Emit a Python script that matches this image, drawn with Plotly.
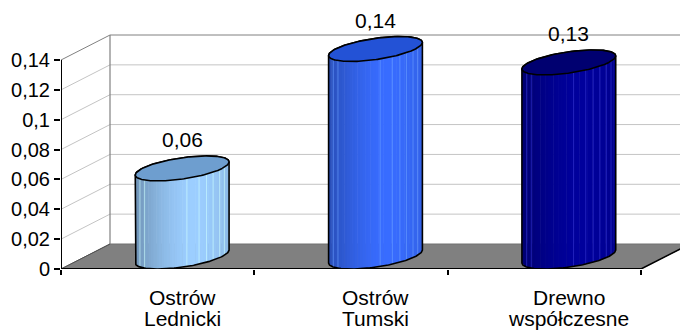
import numpy as np
import plotly.graph_objects as go

# ---- data ----
categories = ["Ostrów Lednicki", "Ostrów Tumski", "Drewno współczesne"]
values = [0.059, 0.139, 0.13]
value_labels = ["0,06", "0,14", "0,13"]
y_ticks = [0, 0.02, 0.04, 0.06, 0.08, 0.1, 0.12, 0.14]
y_tick_labels = ["0", "0,02", "0,04", "0,06", "0,08", "0,1", "0,12", "0,14"]

# ---- style ----
body_colors = [(0x9C, 0xCE, 0xFF), (0x38, 0x6C, 0xFF), (0x00, 0x00, 0x9C)]
top_colors = ["#6E9ECF", "#2352D6", "#000070"]
FONT = "Liberation Sans, Arial, sans-serif"
W, H = 680, 331
ML, MB = 61, 62
CAT_PX = 193.33
YMAX_AX = 0.14
Y_PX = 209 / YMAX_AX
X_RANGE = [-0.5, -0.5 + (W - ML) / CAT_PX]
Y_RANGE = [0, (H - MB) / Y_PX]
DX = 49 / CAT_PX          # depth offset in x units
DY = 25 / Y_PX            # depth offset in y units
RU = 40 / CAT_PX          # cylinder radius in x units

fig = go.Figure()
shapes = []

def line(x0, y0, x1, y1, color, width=1, layer="below"):
    shapes.append(dict(type="line", xref="x", yref="y", x0=x0, y0=y0, x1=x1, y1=y1,
                       line=dict(color=color, width=width), layer=layer))

n = len(categories)
xl, xr = -0.5, n - 0.5
# floor
shapes.append(dict(type="path", xref="x", yref="y", layer="below",
                   path=f"M {xl},0 L {xl+DX},{DY} L {xr+DX},{DY} L {xr},0 Z",
                   fillcolor="#808080", line=dict(color="#707070", width=1)))
# gridlines: side wall diagonals and back wall horizontals
for v in y_ticks[1:]:
    col = "#808080" if v == y_ticks[-1] else "#C4C4C4"
    line(xl, v, xl + DX, v + DY, col, 1)
    line(xl + DX, v + DY, xr + DX + 0.2, v + DY, col, 1)
# back wall left edge
line(xl + DX, DY, xl + DX, y_ticks[-1] + DY, "#808080", 1.2)
# floor left edge
line(xl, 0, xl + DX, DY, "#505050", 1)
# floor right edge
line(xr, 0, xr + DX, DY, "black", 1.5)
# front axis lines
line(xl, 0, xr, 0, "black", 2)
line(xl, 0, xl, y_ticks[-1], "black", 2)

# ---- cylinders ----
thR = np.arctan2(0.5 * DX, RU)

def ell(cx, base, th):
    X = cx + RU * np.cos(th) + 0.5 * DX * (1 + np.sin(th))
    Y = base + 0.5 * DY * (1 + np.sin(th))
    return X, Y

def shade(t):
    if t < 0.6:
        return 0.72 + 0.28 * (1 - ((0.6 - t) / 0.6) ** 1.5)
    return 1 - 0.1 * ((t - 0.6) / 0.4) ** 2

for i, (v, bc, tc) in enumerate(zip(values, body_colors, top_colors)):
    front = thR + np.pi + np.linspace(0, np.pi, 120)
    back = thR + np.linspace(0, np.pi, 120)
    fx, fy = ell(i, 0.0, front)          # bottom front arc (left -> right)
    bx, by = ell(i, v, back)             # top back arc (right -> left)
    bxs, bys = bx[::-1], by[::-1]
    x_left, x_right = fx[0], fx[-1]
    nsl = 36
    edges = np.linspace(x_left, x_right, nsl + 1)
    for k in range(nsl):
        xa, xb = edges[k], edges[k + 1] + (x_right - x_left) * 0.006
        xb = min(xb, x_right)
        ya0, yb0 = np.interp(xa, fx, fy), np.interp(xb, fx, fy)
        ya1, yb1 = np.interp(xa, bxs, bys), np.interp(xb, bxs, bys)
        m = shade((k + 0.5) / nsl)
        c = "rgb(%d,%d,%d)" % tuple(int(round(ch * m)) for ch in bc)
        fig.add_trace(go.Scatter(x=[xa, xb, xb, xa, xa], y=[ya0, yb0, yb1, ya1, ya0],
                                 mode="lines", fill="toself", fillcolor=c,
                                 line=dict(width=0), hoverinfo="skip", showlegend=False))
    # thin light stripes
    lc = "rgba(%d,%d,%d,0.8)" % tuple(min(255, int(ch * 1.0 + 50)) for ch in bc)
    for t in [0.05, 0.1, 0.55, 0.68, 0.76, 0.83, 0.9, 0.95]:
        xs = x_left + t * (x_right - x_left)
        fig.add_trace(go.Scatter(x=[xs, xs], y=[np.interp(xs, fx, fy), np.interp(xs, bxs, bys)],
                                 mode="lines", line=dict(color=lc, width=0.8),
                                 hoverinfo="skip", showlegend=False))
    # body outline
    ox = np.concatenate([bx, fx, bx[:1]])
    oy = np.concatenate([by, fy, by[:1]])
    fig.add_trace(go.Scatter(x=ox, y=oy, mode="lines", line=dict(color="black", width=1.6),
                             hoverinfo="skip", showlegend=False))
    # top ellipse
    th = np.linspace(0, 2 * np.pi, 200)
    tx, ty = ell(i, v, th)
    fig.add_trace(go.Scatter(x=tx, y=ty, mode="lines", fill="toself", fillcolor=tc,
                             line=dict(color="black", width=1.6),
                             hoverinfo="skip", showlegend=False))

annotations = []
for i, (v, lab) in enumerate(zip(values, value_labels)):
    annotations.append(dict(x=i + 0.5 * DX, y=v + DY, xref="x", yref="y", text=lab,
                            showarrow=False, yanchor="middle", yshift=16,
                            font=dict(family=FONT, size=21, color="black")))
for i, cat in enumerate(categories):
    parts = cat.split(" ", 1)
    for j, p in enumerate(parts):
        annotations.append(dict(x=i + 0.5 * DX, y=0, xref="x", yref="y", text=p,
                                showarrow=False, yanchor="middle", yshift=-28 - 21 * j,
                                borderpad=0,
                                font=dict(family=FONT, size=21, color="black")))

fig.update_layout(
    width=W, height=H,
    margin=dict(l=ML, r=0, t=0, b=MB, pad=0),
    paper_bgcolor="white", plot_bgcolor="white",
    shapes=shapes, annotations=annotations, showlegend=False,
    xaxis=dict(range=X_RANGE, showgrid=False, zeroline=False, showline=False,
               tickmode="array", tickvals=[-0.5, 0.5, 1.5, 2.5], ticks="outside",
               ticklen=5, tickwidth=1.5, tickcolor="black", showticklabels=False,
               fixedrange=True),
    yaxis=dict(range=Y_RANGE, showgrid=False, zeroline=False, showline=False,
               tickmode="array", tickvals=y_ticks, ticktext=y_tick_labels,
               ticks="outside", ticklen=6, tickwidth=1.5, tickcolor="black",
               tickfont=dict(family=FONT, size=20, color="black"), fixedrange=True),
)

fig.write_html("out.html")
